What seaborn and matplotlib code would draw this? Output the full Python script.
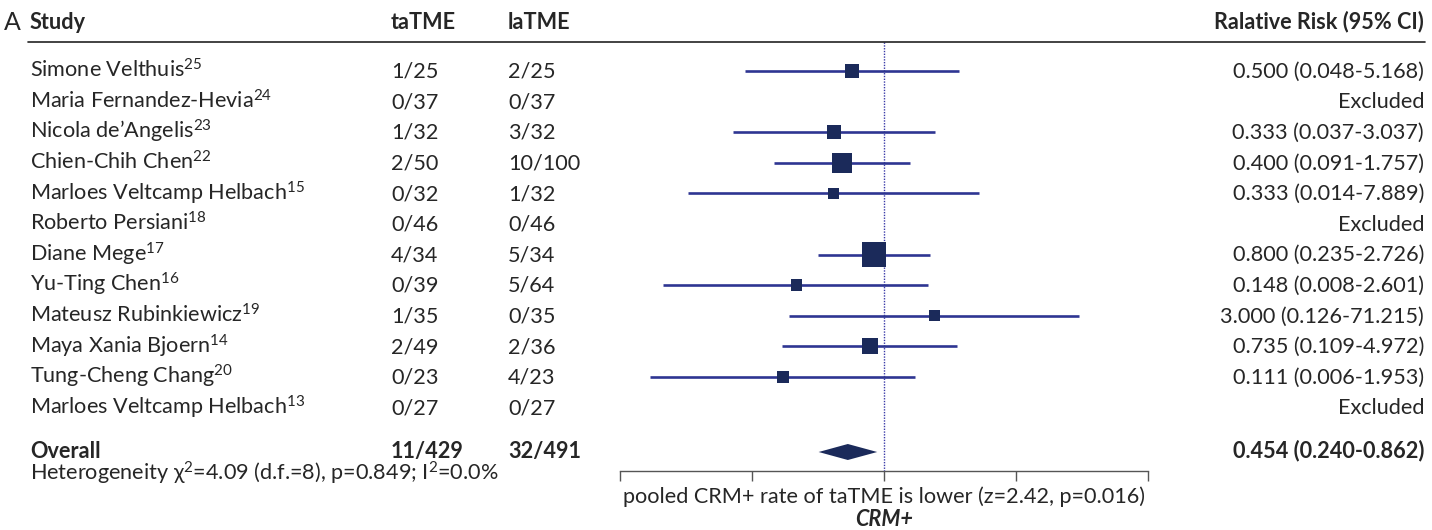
import numpy as np
import pandas as pd
import matplotlib
matplotlib.use("Agg")
import matplotlib.pyplot as plt
import matplotlib.transforms as mtransforms
import seaborn as sns

# ---- data ----
studies = ["Simone Velthuis", "Maria Fernandez-Hevia", "Nicola de\u2019Angelis",
           "Chien-Chih Chen", "Marloes Veltcamp Helbach", "Roberto Persiani",
           "Diane Mege", "Yu-Ting Chen", "Mateusz Rubinkiewicz",
           "Maya Xania Bjoern", "Tung-Cheng Chang", "Marloes Veltcamp Helbach"]
refs = ["25", "24", "23", "22", "15", "18", "17", "16", "19", "14", "20", "13"]
ta_events = ["1/25", "0/37", "1/32", "2/50", "0/32", "0/46",
             "4/34", "0/39", "1/35", "2/49", "0/23", "0/27"]
la_events = ["2/25", "0/37", "3/32", "10/100", "1/32", "0/46",
             "5/34", "5/64", "0/35", "2/36", "4/23", "0/27"]
rr = [0.500, np.nan, 0.333, 0.400, 0.333, np.nan,
      0.800, 0.148, 3.000, 0.735, 0.111, np.nan]
rr_lo = [0.048, np.nan, 0.037, 0.091, 0.014, np.nan,
         0.235, 0.008, 0.126, 0.109, 0.006, np.nan]
rr_hi = [5.168, np.nan, 3.037, 1.757, 7.889, np.nan,
         2.726, 2.601, 71.215, 4.972, 1.953, np.nan]
# relative study weights (%)
weights = [9.0, 0.0, 9.0, 18.4, 5.6, 0.0, 27.6, 6.6, 5.6, 11.8, 6.6, 0.0]

overall_ta = "11/429"
overall_la = "32/491"
overall_rr, overall_lo, overall_hi = 0.454, 0.240, 0.862
chi2, het_df, het_p, i2 = 4.09, 8, 0.849, 0.0
z_val, z_p = 2.42, 0.016

W, H = 1432, 530
ROW0, ROWH = 71, 30.6          # pixel y of first row, row pitch


def row(py):
    return (py - ROW0) / ROWH


def ci_label(e, lo, hi):
    if np.isnan(e):
        return "Excluded"
    return f"{e:.3f} ({lo:.3f}-{hi:.3f})"


sns.set_theme(style="white")
plt.rcParams["font.family"] = ["Lato", "DejaVu Sans"]
plt.rcParams["mathtext.fontset"] = "custom"
plt.rcParams["mathtext.rm"] = "Lato"
plt.rcParams["mathtext.it"] = "Lato:italic"
plt.rcParams["mathtext.bf"] = "Lato:bold"

fig = plt.figure(figsize=(W / 100, H / 100), dpi=100)

# pick a font size so the CI column is as wide as in the original
renderer = fig.canvas.get_renderer()
probe = fig.text(0, 0, ci_label(rr[0], rr_lo[0], rr_hi[0]), fontsize=20)
fs = 20 * 191 / probe.get_window_extent(renderer).width
probe.remove()

span = 5.76
x_left, x_right = 884 - 45.8 * span, 884 + 45.8 * span
ax = fig.add_axes([x_left / W, 0, (x_right - x_left) / W, 1])
ax.set_xscale("log")
ax.set_xlim(np.exp(-span), np.exp(span))
ax.set_ylim(row(H), row(0))

df = pd.DataFrame({"study": studies, "rr": rr, "lo": rr_lo, "hi": rr_hi,
                   "weight": weights})
df["y"] = np.arange(len(df))
est = df.dropna()

line_col = "#2e3592"
box_col = "#1b2a5a"
ax.hlines(est["y"], est["lo"], est["hi"], color=line_col, lw=1.9, zorder=2)
px_per_sqrtw = 4.66
sizes = {w: (px_per_sqrtw * np.sqrt(w) * 0.72) ** 2 for w in est["weight"]}
sns.scatterplot(data=est, x="rr", y="y", size="weight", sizes=sizes,
                marker="s", color=box_col, linewidth=0, legend=False,
                ax=ax, zorder=3)
ax.set_xlabel("")
ax.set_ylabel("")

# pooled diamond
y_ov = row(452)
dh = 8 / ROWH
ax.fill([overall_lo, overall_rr, overall_hi, overall_rr],
        [y_ov, y_ov - dh, y_ov, y_ov + dh], color=box_col, lw=0, zorder=3)

# null line
y_axis = row(470.7)
ax.vlines(1, row(42), y_axis, color="#3a3aa8", lw=1, linestyles=(0, (1, 1)),
          zorder=1)

# bottom axis
for s in ["top", "left", "right"]:
    ax.spines[s].set_visible(False)
ax.spines["bottom"].set_position(("data", y_axis))
ax.spines["bottom"].set_color("#555555")
ax.spines["bottom"].set_linewidth(1)
ax.set_yticks([])
ax.set_xticks(np.exp(np.linspace(-span, span, 5)))
ax.xaxis.set_minor_locator(matplotlib.ticker.NullLocator())
ax.set_xticklabels([])
ax.tick_params(axis="x", direction="out", length=7, width=1, color="#555555",
               bottom=True)
ax.set_facecolor("none")

# ---- text columns ----
tr = mtransforms.blended_transform_factory(fig.transFigure, ax.transData)
tr_ax = mtransforms.blended_transform_factory(ax.transAxes, ax.transData)
base = 6.7 / ROWH    # baseline offset below row centre
col_study, col_ta, col_la, col_rr = 30 / W, 391 / W, 508 / W, 1424 / W

y_head = row(22)
fig.text(4 / W, 1 - 23 / H, "A", fontsize=fs * 1.15, va="center", ha="left")
for x, label, ha in [(col_study, "Study", "left"), (col_ta, "taTME", "left"),
                     (col_la, "laTME", "left"),
                     (col_rr, "Ralative Risk (95% CI)", "right")]:
    ax.text(x, y_head + base, label, transform=tr, fontsize=fs,
            fontweight="bold", ha=ha, va="baseline")
ax.plot([28 / W, 1425 / W], [row(42), row(42)], transform=tr, color="#222222",
        lw=1.2, clip_on=False)

for i in range(len(studies)):
    yb = i + base
    ax.text(col_study, yb, studies[i] + r"$^{\mathrm{" + refs[i] + "}}$",
            transform=tr, fontsize=fs, va="baseline")
    ax.text(col_ta, yb, ta_events[i], transform=tr, fontsize=fs, va="baseline")
    ax.text(col_la, yb, la_events[i], transform=tr, fontsize=fs, va="baseline")
    ax.text(col_rr, yb, ci_label(rr[i], rr_lo[i], rr_hi[i]), transform=tr,
            fontsize=fs, ha="right", va="baseline")

yb = row(451) + base
ax.text(col_study, yb, "Overall", transform=tr, fontsize=fs,
        fontweight="bold", va="baseline")
ax.text(col_ta, yb, overall_ta, transform=tr, fontsize=fs, fontweight="bold",
        va="baseline")
ax.text(col_la, yb, overall_la, transform=tr, fontsize=fs, fontweight="bold",
        va="baseline")
ax.text(col_rr, yb, ci_label(overall_rr, overall_lo, overall_hi),
        transform=tr, fontsize=fs, fontweight="bold", ha="right",
        va="baseline")
ax.text(col_study, row(474) + base,
        r"Heterogeneity $\mathrm{\chi}^{2}$" + f"={chi2:.2f} (d.f.={het_df}), "
        f"p={het_p:.3f}; I" + r"$^{2}$" + f"={i2:.1f}%",
        transform=tr, fontsize=fs, va="baseline")

ax.text(0.5, row(496) + base,
        f"pooled CRM+ rate of taTME is lower (z={z_val:.2f}, p={z_p:.3f})",
        transform=tr_ax, fontsize=fs, ha="center", va="baseline")
ax.text(0.5, row(519) + base, "CRM+", transform=tr_ax, fontsize=fs,
        fontweight="bold", fontstyle="italic", ha="center", va="baseline")

fig.savefig("out.png", dpi=100)
